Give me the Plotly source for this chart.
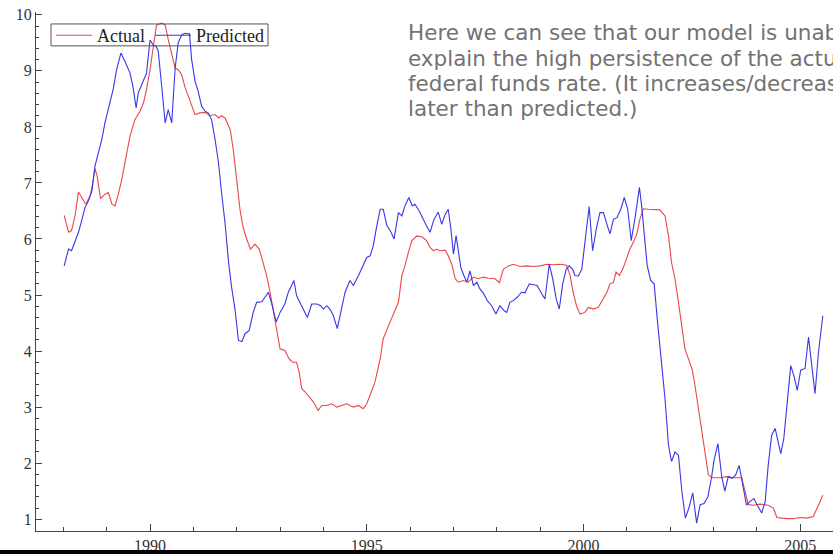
import plotly.graph_objects as go

# Actual federal funds rate
actual_year = [1988.02, 1988.12, 1988.19, 1988.27, 1988.35, 1988.42, 1988.52, 1988.62, 1988.68, 1988.73,
               1988.78, 1988.86, 1988.96, 1989.04, 1989.12, 1989.19, 1989.27, 1989.35, 1989.45, 1989.54,
               1989.65, 1989.77, 1989.85, 1989.92, 1990.00, 1990.08, 1990.15, 1990.27, 1990.35, 1990.42,
               1990.50, 1990.58, 1990.65, 1990.73, 1990.81, 1990.88, 1990.96, 1991.04, 1991.15, 1991.27,
               1991.38, 1991.50, 1991.58, 1991.65, 1991.73, 1991.85, 1991.92, 1992.00, 1992.08, 1992.15,
               1992.23, 1992.32, 1992.42, 1992.52, 1992.61, 1992.69, 1992.77, 1992.86, 1992.94, 1993.00,
               1993.11, 1993.21, 1993.29, 1993.38, 1993.44, 1993.50, 1993.58, 1993.65, 1993.77, 1993.88,
               1993.96, 1994.08, 1994.19, 1994.31, 1994.42, 1994.54, 1994.61, 1994.69, 1994.81, 1994.92,
               1995.00, 1995.08, 1995.19, 1995.31, 1995.38, 1995.50, 1995.58, 1995.65, 1995.73, 1995.81,
               1995.88, 1995.96, 1996.04, 1996.15, 1996.27, 1996.38, 1996.46, 1996.54, 1996.61, 1996.69,
               1996.81, 1996.88, 1996.96, 1997.04, 1997.11, 1997.23, 1997.34, 1997.46, 1997.57, 1997.69,
               1997.80, 1997.96, 1998.06, 1998.15, 1998.27, 1998.38, 1998.54, 1998.69, 1998.84, 1999.00,
               1999.15, 1999.30, 1999.46, 1999.61, 1999.69, 1999.76, 1999.84, 1999.92, 2000.03, 2000.11,
               2000.23, 2000.34, 2000.46, 2000.54, 2000.61, 2000.69, 2000.75, 2000.83, 2000.92, 2001.00,
               2001.07, 2001.15, 2001.23, 2001.30, 2001.38, 2001.49, 2001.61, 2001.76, 2001.88, 2001.96,
               2002.03, 2002.11, 2002.19, 2002.27, 2002.34, 2002.42, 2002.51, 2002.57, 2002.65, 2002.73,
               2002.80, 2002.88, 2002.99, 2003.15, 2003.30, 2003.46, 2003.65, 2003.73, 2003.80, 2003.92,
               2004.07, 2004.26, 2004.38, 2004.46, 2004.57, 2004.69, 2004.84, 2004.99, 2005.15, 2005.30,
               2005.42, 2005.52]
actual_rate = [6.42, 6.12, 6.15, 6.41, 6.84, 6.74, 6.62, 6.77, 7.00, 7.26,
               7.12, 6.72, 6.80, 6.83, 6.62, 6.59, 6.80, 7.07, 7.48, 7.84,
               8.13, 8.28, 8.43, 8.67, 9.02, 9.44, 9.82, 9.85, 9.82, 9.56,
               9.32, 9.05, 9.02, 8.93, 8.70, 8.55, 8.40, 8.22, 8.25, 8.26,
               8.20, 8.22, 8.16, 8.20, 8.16, 7.95, 7.60, 7.00, 6.50, 6.20,
               6.00, 5.82, 5.91, 5.82, 5.58, 5.35, 5.05, 4.63, 4.28, 4.04,
               4.01, 3.86, 3.80, 3.80, 3.63, 3.33, 3.27, 3.21, 3.09, 2.94,
               3.03, 3.03, 3.06, 3.00, 3.03, 3.06, 3.03, 3.00, 3.03, 2.97,
               3.06, 3.21, 3.45, 3.86, 4.22, 4.45, 4.60, 4.75, 4.87, 5.35,
               5.52, 5.76, 5.97, 6.05, 6.04, 5.97, 5.85, 5.79, 5.82, 5.79,
               5.80, 5.70, 5.55, 5.29, 5.23, 5.26, 5.23, 5.32, 5.29, 5.32,
               5.30, 5.29, 5.22, 5.46, 5.52, 5.55, 5.51, 5.52, 5.51, 5.52,
               5.55, 5.54, 5.55, 5.53, 5.35, 5.05, 4.80, 4.66, 4.69, 4.78,
               4.75, 4.78, 4.93, 5.05, 5.20, 5.23, 5.41, 5.35, 5.49, 5.67,
               5.82, 5.94, 6.09, 6.35, 6.54, 6.53, 6.52, 6.52, 6.41, 6.06,
               5.58, 5.29, 4.87, 4.40, 4.04, 3.86, 3.66, 3.39, 2.97, 2.56,
               2.14, 1.79, 1.74, 1.74, 1.76, 1.74, 1.74, 1.45, 1.26, 1.25,
               1.27, 1.25, 1.20, 1.03, 1.02, 1.01, 1.01, 1.03, 1.02, 1.05,
               1.25, 1.43]

# Predicted rate
pred_year = [1988.02, 1988.12, 1988.19, 1988.27, 1988.35, 1988.42, 1988.50, 1988.58, 1988.66, 1988.73,
             1988.81, 1988.89, 1988.96, 1989.04, 1989.15, 1989.23, 1989.33, 1989.42, 1989.54, 1989.61,
             1989.68, 1989.73, 1989.83, 1989.92, 1990.00, 1990.08, 1990.14, 1990.19, 1990.27, 1990.35,
             1990.42, 1990.50, 1990.58, 1990.65, 1990.73, 1990.81, 1990.91, 1990.96, 1991.04, 1991.11,
             1991.19, 1991.27, 1991.34, 1991.42, 1991.50, 1991.58, 1991.65, 1991.73, 1991.81, 1991.88,
             1991.96, 1992.04, 1992.12, 1992.19, 1992.29, 1992.38, 1992.46, 1992.58, 1992.65, 1992.73,
             1992.81, 1992.91, 1993.00, 1993.11, 1993.19, 1993.27, 1993.32, 1993.38, 1993.46, 1993.54,
             1993.63, 1993.73, 1993.85, 1993.94, 1994.00, 1994.08, 1994.15, 1994.23, 1994.32, 1994.40,
             1994.50, 1994.61, 1994.69, 1994.81, 1994.92, 1995.00, 1995.08, 1995.15, 1995.23, 1995.31,
             1995.38, 1995.46, 1995.56, 1995.63, 1995.73, 1995.81, 1995.88, 1995.97, 1996.05, 1996.11,
             1996.21, 1996.30, 1996.38, 1996.46, 1996.55, 1996.65, 1996.73, 1996.81, 1996.88, 1996.94,
             1997.00, 1997.06, 1997.11, 1997.17, 1997.24, 1997.31, 1997.38, 1997.46, 1997.54, 1997.61,
             1997.70, 1997.78, 1997.88, 1997.98, 1998.07, 1998.17, 1998.23, 1998.30, 1998.38, 1998.47,
             1998.57, 1998.65, 1998.75, 1998.84, 1998.93, 1999.04, 1999.11, 1999.21, 1999.29, 1999.37,
             1999.44, 1999.52, 1999.60, 1999.67, 1999.75, 1999.80, 1999.88, 1999.96, 2000.03, 2000.13,
             2000.21, 2000.30, 2000.38, 2000.46, 2000.54, 2000.61, 2000.69, 2000.77, 2000.86, 2000.94,
             2001.02, 2001.10, 2001.19, 2001.29, 2001.34, 2001.40, 2001.47, 2001.55, 2001.63, 2001.70,
             2001.79, 2001.88, 2001.96, 2002.03, 2002.11, 2002.19, 2002.27, 2002.35, 2002.43, 2002.52,
             2002.61, 2002.69, 2002.78, 2002.87, 2002.96, 2003.01, 2003.10, 2003.19, 2003.26, 2003.34,
             2003.43, 2003.51, 2003.59, 2003.68, 2003.76, 2003.84, 2003.93, 2004.01, 2004.11, 2004.19,
             2004.26, 2004.34, 2004.42, 2004.49, 2004.55, 2004.62, 2004.70, 2004.78, 2004.86, 2004.93,
             2005.01, 2005.11, 2005.19, 2005.26, 2005.34, 2005.42, 2005.52]
pred_rate = [5.52, 5.82, 5.79, 5.94, 6.12, 6.32, 6.56, 6.68, 6.86, 7.30,
             7.54, 7.78, 8.07, 8.31, 8.67, 9.02, 9.32, 9.17, 8.96, 8.70,
             8.34, 8.61, 8.81, 8.96, 9.55, 9.45, 9.44, 9.35, 8.72, 8.07,
             8.31, 8.07, 9.05, 9.50, 9.64, 9.67, 9.66, 9.20, 8.81, 8.64,
             8.37, 8.28, 8.25, 8.13, 7.78, 7.36, 6.83, 6.29, 5.60, 5.15,
             4.75, 4.19, 4.17, 4.31, 4.37, 4.69, 4.87, 4.88, 4.96, 5.05,
             4.84, 4.52, 4.69, 4.84, 5.05, 5.17, 5.26, 4.99, 4.87, 4.75,
             4.60, 4.84, 4.84, 4.81, 4.75, 4.81, 4.75, 4.63, 4.40, 4.69,
             5.05, 5.26, 5.17, 5.35, 5.52, 5.67, 5.70, 5.88, 6.23, 6.53,
             6.53, 6.25, 6.12, 6.00, 6.47, 6.41, 6.59, 6.74, 6.59, 6.62,
             6.50, 6.35, 6.23, 6.12, 6.35, 6.48, 6.26, 6.44, 6.53, 6.18,
             5.73, 6.06, 5.79, 5.49, 5.35, 5.23, 5.43, 5.17, 5.23, 5.11,
             5.02, 4.90, 4.81, 4.66, 4.81, 4.72, 4.69, 4.87, 4.90, 4.96,
             5.05, 5.04, 5.20, 5.18, 5.17, 5.02, 4.93, 5.55, 5.29, 4.93,
             4.75, 5.20, 5.46, 5.52, 5.46, 5.35, 5.34, 5.46, 5.95, 6.58,
             5.79, 6.20, 6.47, 6.47, 6.26, 6.09, 6.35, 6.38, 6.53, 6.74,
             6.53, 5.97, 6.38, 6.92, 6.59, 6.06, 5.52, 5.26, 5.20, 4.58,
             3.92, 3.15, 2.32, 2.03, 2.20, 2.14, 1.49, 1.02, 1.20, 1.47,
             0.93, 1.26, 1.28, 1.40, 1.78, 2.05, 2.35, 1.75, 1.50, 1.76,
             1.73, 1.79, 1.96, 1.56, 1.25, 1.32, 1.37, 1.25, 1.11, 1.31,
             1.96, 2.50, 2.62, 2.38, 2.17, 2.44, 3.15, 3.74, 3.54, 3.30,
             3.66, 3.69, 4.25, 3.74, 3.24, 3.98, 4.63]

note_lines = [
    "Here we can see that our model is unable to",
    "explain the high persistence of the actual",
    "federal funds rate. (It increases/decreases",
    "later than predicted.)",
]

fig = go.Figure()
fig.add_trace(go.Scatter(x=actual_year, y=actual_rate, mode="lines", name="Actual",
                         line=dict(color="rgb(236,70,70)", width=1.1)))
fig.add_trace(go.Scatter(x=pred_year, y=pred_rate, mode="lines", name="Predicted",
                         line=dict(color="rgb(55,55,232)", width=1.1)))

axis_col = "#444444"
tick_font = dict(family="Liberation Serif", size=16, color="#333333")

fig.update_xaxes(range=[1987.37, 2005.755], showgrid=False, zeroline=False,
                 showline=True, linecolor=axis_col, linewidth=1,
                 ticks="inside", ticklen=7, tickcolor=axis_col, tickwidth=1,
                 tick0=1990, dtick=5, tickfont=tick_font,
                 minor=dict(ticks="inside", ticklen=4, dtick=1, tick0=1990, tickcolor=axis_col, showgrid=False))
fig.update_yaxes(range=[0.79, 10.05], showgrid=False, zeroline=False,
                 showline=True, linecolor=axis_col, linewidth=1,
                 ticks="inside", ticklen=6, tickcolor=axis_col, tickwidth=1,
                 tick0=0, dtick=1, tickfont=tick_font,
                 minor=dict(ticks="inside", ticklen=3, dtick=0.2, tick0=0, tickcolor=axis_col, showgrid=False))

y_px = [33, 59, 84, 109]
for line, p in zip(note_lines, y_px):
    fig.add_annotation(text=line, xref="paper", yref="paper",
                       x=(406 - 36) / 797, y=(533 - p) / 521,
                       xanchor="left", yanchor="middle", showarrow=False,
                       font=dict(family="DejaVu Sans", size=21.5, color="#727272"))

# legend frame
fig.add_shape(type="rect", xref="paper", yref="paper",
              x0=(51 - 36) / 797, x1=(268 - 36) / 797,
              y0=(533 - 46) / 521, y1=(533 - 24) / 521,
              fillcolor="rgba(0,0,0,0)", line=dict(color="#555555", width=1), layer="above")

# dark strip along the bottom edge
fig.add_shape(type="rect", xref="paper", yref="paper", x0=-0.1, x1=1.05,
              y0=-0.06, y1=-19 / 521, fillcolor="black", line=dict(width=0), layer="above")

fig.update_layout(
    width=833, height=554,
    margin=dict(l=36, r=0, t=12, b=21),
    paper_bgcolor="white", plot_bgcolor="white",
    showlegend=True,
    legend=dict(orientation="h", x=(51 - 36) / 797, y=(533 - 17) / 521,
                xanchor="left", yanchor="top",
                bgcolor="rgba(0,0,0,0)", borderwidth=0,
                font=dict(family="Liberation Serif", size=18, color="#222222"),
                itemwidth=36, tracegroupgap=0),
)

fig.write_html("out.html")
